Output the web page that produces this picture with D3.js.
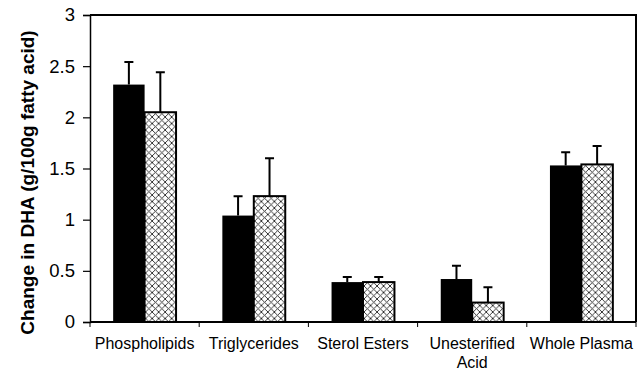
<!DOCTYPE html>
<html>
<head>
<meta charset="utf-8">
<script src="https://cdn.jsdelivr.net/npm/d3@7"></script>
<style>
  html, body { margin: 0; padding: 0; background: #fff; }
  svg { display: block; font-family: "Liberation Sans", Arial, Helvetica, sans-serif; }
</style>
</head>
<body>
<svg id="chart" width="640" height="372"></svg>
<script>
// Lipid fractions on the x axis
const categories = ["Phospholipids", "Triglycerides", "Sterol Esters", "Unesterified Acid", "Whole Plasma"];
// Change in DHA (g/100g fatty acid) for the two groups
const groupSolid = [2.32, 1.04, 0.39, 0.42, 1.53];
const groupSolidErr = [0.22, 0.19, 0.05, 0.13, 0.13];
const groupHatched = [2.05, 1.23, 0.39, 0.19, 1.54];
const groupHatchedErr = [0.39, 0.37, 0.05, 0.15, 0.18];
const yTicks = [0, 0.5, 1, 1.5, 2, 2.5, 3];
const yLabel = "Change in DHA (g/100g fatty acid)";

const svg = d3.select("#chart");
const plotLeft = 90, plotRight = 636, plotTop = 15, plotBottom = 322;

const x = d3.scaleBand().domain(categories).range([plotLeft, plotRight])
  .paddingInner(0.424).paddingOuter(0.212);
const sub = d3.scaleBand().domain([0, 1]).range([0, x.bandwidth()]);
const y = d3.scaleLinear().domain([0, 3]).range([plotBottom, plotTop]);

// crosshatch fill
const defs = svg.append("defs");
const pat = defs.append("pattern").attr("id", "xhatch")
  .attr("patternUnits", "userSpaceOnUse").attr("width", 6.5).attr("height", 6.5);
pat.append("rect").attr("width", 6.5).attr("height", 6.5).attr("fill", "#fff");
pat.append("path").attr("d", "M-1,-1L7.5,7.5M7.5,-1L-1,7.5")
  .attr("stroke", "#222").attr("stroke-width", 0.9).attr("fill", "none");

const rows = categories.map((c, i) => ({
  cat: c,
  bars: [
    { k: 0, v: groupSolid[i], e: groupSolidErr[i] },
    { k: 1, v: groupHatched[i], e: groupHatchedErr[i] }
  ]
}));

const groups = svg.append("g").selectAll("g").data(rows).join("g")
  .attr("transform", d => `translate(${x(d.cat)},0)`);

// error bars (upper half only), drawn under the bars
groups.selectAll("path.err").data(d => d.bars).join("path")
  .attr("class", "err")
  .attr("d", b => {
    const cx = sub(b.k) + sub.bandwidth() / 2;
    const y0 = y(b.v), y1 = y(b.v + b.e);
    return `M${cx},${y0}V${y1}M${cx - 4.5},${y1}H${cx + 4.5}`;
  })
  .attr("stroke", "#000").attr("stroke-width", 2).attr("fill", "none");

groups.selectAll("rect").data(d => d.bars).join("rect")
  .attr("x", b => sub(b.k))
  .attr("y", b => y(b.v))
  .attr("width", sub.bandwidth())
  .attr("height", b => y(0) - y(b.v))
  .attr("fill", b => b.k ? "url(#xhatch)" : "#000")
  .attr("stroke", "#000")
  .attr("stroke-width", b => b.k ? 2 : 0);

// frame: top and right edges
svg.append("path").attr("d", `M${plotLeft},${plotTop}H${plotRight}V${plotBottom}`)
  .attr("stroke", "#000").attr("stroke-width", 2).attr("fill", "none");

// y axis
const yAxis = svg.append("g").attr("transform", `translate(${plotLeft},0)`)
  .call(d3.axisLeft(y).tickValues(yTicks).tickSize(7).tickPadding(8).tickFormat(d => String(d)));
yAxis.select(".domain").attr("stroke-width", 1.5);
yAxis.selectAll(".tick line").attr("stroke-width", 1.2);
yAxis.selectAll("text").attr("font-size", 18.5).attr("fill", "#000")
  .attr("font-family", "'Liberation Sans', Arial, sans-serif");

// x axis: baseline plus ticks at category boundaries
svg.append("line").attr("x1", plotLeft).attr("x2", plotRight).attr("y1", plotBottom).attr("y2", plotBottom)
  .attr("stroke", "#000").attr("stroke-width", 2);
const edges = categories.map(c => x(c) - x.step() * x.paddingInner() / 2).concat([plotRight]);
svg.append("g").selectAll("line").data(edges).join("line")
  .attr("x1", d => d).attr("x2", d => d).attr("y1", plotBottom).attr("y2", plotBottom + 5)
  .attr("stroke", "#000").attr("stroke-width", 1);

// category labels, wrapping "Unesterified Acid" onto two lines
const labelLines = { "Unesterified Acid": ["Unesterified", "Acid"] };
svg.append("g").selectAll("text").data(categories).join("text")
  .attr("text-anchor", "middle").attr("font-size", 16).attr("fill", "#000")
  .each(function (c) {
    const lines = labelLines[c] || [c];
    const cx = x(c) + x.bandwidth() / 2;
    d3.select(this).selectAll("tspan").data(lines).join("tspan")
      .attr("x", cx).attr("y", (l, i) => 349 + i * 19).text(l => l);
  });

// y axis title
svg.append("text")
  .attr("transform", `translate(34,${(plotBottom + plotTop) / 2 + 14}) rotate(-90)`)
  .attr("text-anchor", "middle").attr("font-size", 19).attr("font-weight", "bold")
  .attr("fill", "#000").text(yLabel);
</script>
</body>
</html>
